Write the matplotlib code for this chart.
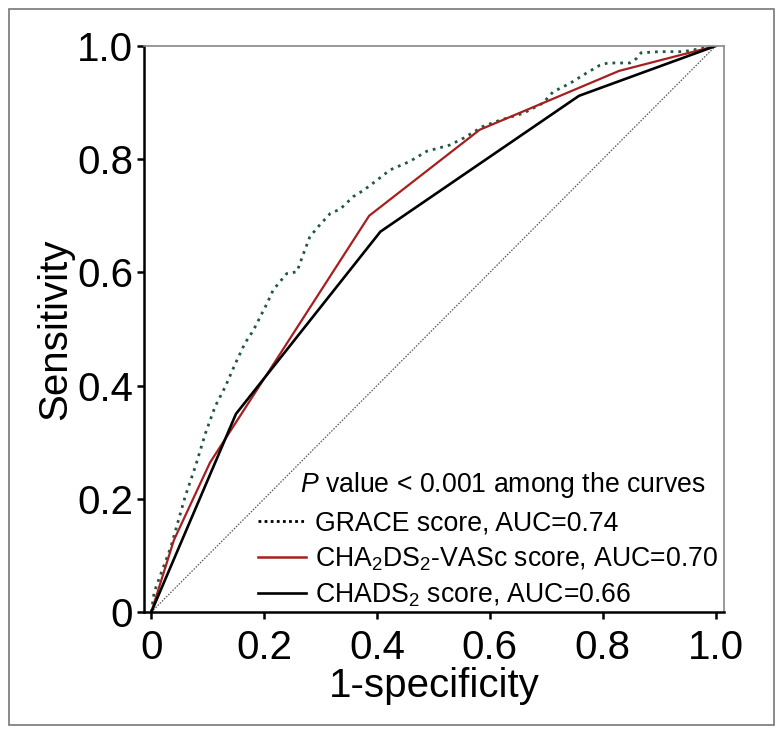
import matplotlib
matplotlib.use("Agg")
import matplotlib.pyplot as plt
from matplotlib.lines import Line2D
from matplotlib.patches import Rectangle

plt.rcParams['font.family'] = ['Liberation Sans', 'DejaVu Sans']
plt.rcParams['mathtext.fontset'] = 'custom'
plt.rcParams['mathtext.rm'] = 'Liberation Sans'
plt.rcParams['mathtext.it'] = 'Liberation Sans:italic'

# ROC curve points
grace_x = [0, 0.005, 0.016, 0.034, 0.06, 0.078, 0.096, 0.113, 0.131, 0.149, 0.166,
           0.181, 0.205, 0.216, 0.24, 0.258, 0.27, 0.281, 0.296, 0.317, 0.335,
           0.358, 0.376, 0.40, 0.423, 0.458, 0.488, 0.529, 0.553, 0.588, 0.618,
           0.659, 0.694, 0.712, 0.742, 0.771, 0.795, 0.809, 0.848, 0.860, 0.868,
           0.901, 0.942, 0.972, 1.0]
grace_y = [0, 0.035, 0.065, 0.113, 0.204, 0.257, 0.316, 0.363, 0.398, 0.439, 0.475,
           0.498, 0.545, 0.569, 0.598, 0.601, 0.634, 0.663, 0.681, 0.704, 0.712,
           0.734, 0.745, 0.763, 0.781, 0.796, 0.814, 0.825, 0.837, 0.858, 0.869,
           0.881, 0.899, 0.919, 0.934, 0.952, 0.966, 0.970, 0.970, 0.978, 0.988,
           0.990, 0.990, 0.995, 1.0]

vasc_x = [0, 0.040, 0.104, 0.386, 0.582, 0.829, 1.0]
vasc_y = [0, 0.127, 0.264, 0.700, 0.852, 0.956, 1.0]

chads_x = [0, 0.150, 0.406, 0.758, 1.0]
chads_y = [0, 0.350, 0.672, 0.912, 1.0]

ref_x = [0, 1]
ref_y = [0, 1]

tick_vals = [0, 0.2, 0.4, 0.6, 0.8, 1.0]
tick_labels = ["0", "0.2", "0.4", "0.6", "0.8", "1.0"]

labels = ["GRACE score, AUC=0.74",
          r"CHA$_2$DS$_2$-VASc score, AUC=0.70",
          r"CHADS$_2$ score, AUC=0.66"]

green = "#1f5a40"
red = "#a81e1e"

fig = plt.figure(figsize=(7.84, 7.35), dpi=100)
ax = fig.add_axes([144 / 784, 1 - 612 / 735, 580 / 784, 566 / 735])

ax.plot(ref_x, ref_y, color="#555555", lw=0.9, linestyle=(0, (1.2, 1.2)))
ax.plot(grace_x, grace_y, color=green, lw=2.0, linestyle=(0, (1, 1.8)),
        dash_capstyle="butt")
ax.plot(vasc_x, vasc_y, color=red, lw=1.6)
ax.plot(chads_x, chads_y, color="black", lw=1.9)

ax.set_xlim(-0.013, 1.015)
ax.set_ylim(0, 1.0)
ax.set_xticks(tick_vals)
ax.set_xticklabels(tick_labels)
ax.set_yticks(tick_vals)
ax.set_yticklabels(tick_labels)
ax.tick_params(labelsize=29, width=1.8, length=5, direction="out", colors="black")
ax.tick_params(axis="x", pad=7)
ax.tick_params(axis="y", pad=3)

for s in ["left", "bottom"]:
    ax.spines[s].set_linewidth(1.8)
    ax.spines[s].set_color("black")
for s in ["top", "right"]:
    ax.spines[s].set_linewidth(1.2)
    ax.spines[s].set_color("#888888")

ax.set_xlabel("1-specificity", fontsize=29, labelpad=0)
ax.set_ylabel("Sensitivity", fontsize=29, labelpad=2)

handles = [
    Line2D([], [], color="black", lw=2.0, linestyle=(0, (1, 1.2)), dash_capstyle="butt"),
    Line2D([], [], color=red, lw=1.8),
    Line2D([], [], color="black", lw=1.9),
]
leg = ax.legend(handles, labels, loc="upper left", bbox_to_anchor=(258 / 784, 1 - 510 / 735),
                bbox_transform=fig.transFigure, frameon=False, fontsize=19.2,
                handlelength=1.8, handletextpad=0.35, labelspacing=0.34,
                borderpad=0, borderaxespad=0)

fig.text(300 / 784, 1 - 485 / 735, r"$\it{P}$ value < 0.001 among the curves",
         fontsize=19.2, ha="left", va="center")

fig.patches.append(Rectangle((9 / 784, 1 - 725 / 735), 765 / 784, 716 / 735,
                             transform=fig.transFigure, fill=False,
                             edgecolor="#777777", lw=1.2))

fig.savefig("out.png", dpi=100)
